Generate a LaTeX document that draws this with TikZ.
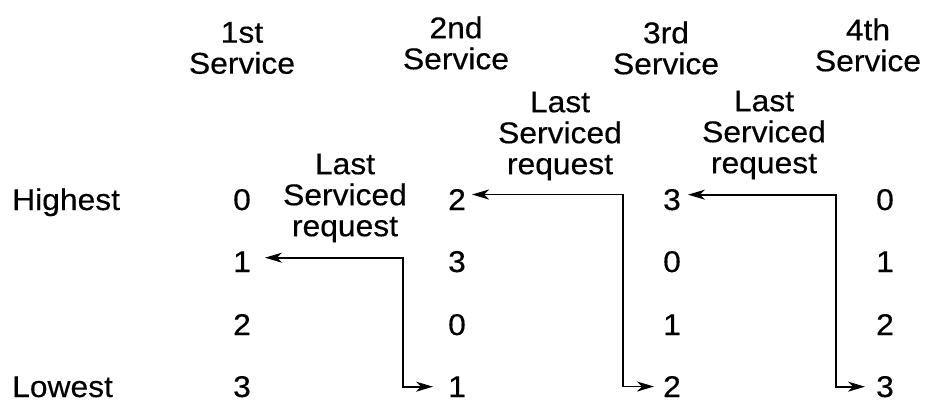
\documentclass[tikz,border=0pt]{standalone}
\usepackage{fontspec}
\setmainfont{Liberation Sans}[FakeStretch=1.06, FakeBold=0.4]
\usetikzlibrary{arrows.meta}

\tikzset{
  txt/.style={inner sep=0pt, font=\fontsize{30}{31}\selectfont, align=center},
  digit/.style={txt, anchor=base},
  tip/.tip={Stealth[length=17pt,width=10pt,inset=5pt]},
  link/.style={line width=1.8pt, tip-tip},
}

\begin{document}
\begin{tikzpicture}[x=1pt, y=-1pt]
  \path[use as bounding box] (0,0) rectangle (926,404);

  % column headings
  \node[txt] (h1) at (242,48) {1st\\Service};
  \node[txt] (h2) at (456,43) {2nd\\Service};
  \node[txt] (h3) at (666,48) {3rd\\Service};
  \node[txt] (h4) at (868,45) {4th\\Service};

  % row labels
  \node[txt, anchor=base west] (hi) at (12,210) {Highest};
  \node[txt, anchor=base west] (lo) at (12,397) {Lowest};

  % priority orders, one column per service
  \foreach \c/\x/\a/\b/\d/\e in {1/242/0/1/2/3, 2/457/2/3/0/1, 3/672/3/0/1/2, 4/885/0/1/2/3} {
    \node[digit] (c\c r0) at (\x,210) {\a};
    \node[digit] (c\c r1) at (\x,272) {\b};
    \node[digit] (c\c r2) at (\x,335) {\d};
    \node[digit] (c\c r3) at (\x,397) {\e};
  }

  % "last serviced request" notes
  \node[txt] (l1) at (345,198) {Last\\Serviced\\request};
  \node[txt] (l2) at (560,136) {Last\\Serviced\\request};
  \node[txt] (l3) at (764,135) {Last\\Serviced\\request};

  % arrow ends and corner columns
  \coordinate (t1) at ([shift={(23,-4)}]c1r1.center);
  \coordinate (u1) at ([shift={(-24,0)}]c2r3.center);
  \coordinate (k1) at (403,0);
  \coordinate (t2) at ([shift={(15,-5)}]c2r0.center);
  \coordinate (u2) at ([shift={(-18,0)}]c3r3.center);
  \coordinate (k2) at (623,0);
  \coordinate (t3) at ([shift={(16,-5)}]c3r0.center);
  \coordinate (u3) at ([shift={(-20,0)}]c4r3.center);
  \coordinate (k3) at (836,0);

  \draw[link] (t1) -| (k1 |- u1) -- (u1);
  \draw[link] (t2) -| (k2 |- u2) -- (u2);
  \draw[link] (t3) -| (k3 |- u3) -- (u3);
\end{tikzpicture}
\end{document}
